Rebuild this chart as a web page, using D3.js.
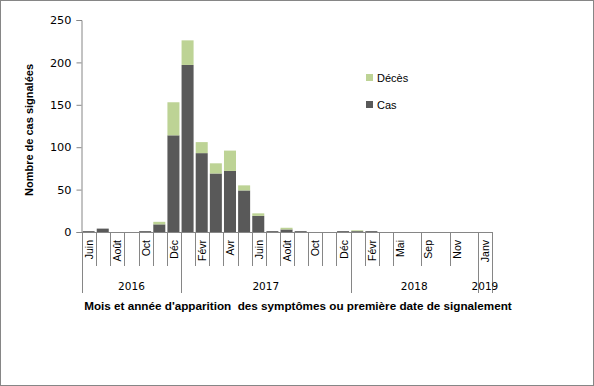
<!DOCTYPE html>
<html>
<meta charset="utf-8">
<style>
  body { margin: 0; }
  text { font-family: "Liberation Sans", Arial, sans-serif; fill: #000; }
</style>
<script src="https://d3js.org/d3.v7.min.js"></script>
<body>
<script>
  var svgWidth = 594, svgHeight = 386;

  // one entry per category on the x axis ("" = label continues the one before)
  var months = ["Juin", "Juil", "Août", "Sep", "Oct", "Nov", "Déc",
    "Janv", "Févr", "Mars", "Avr", "Mai", "Juin", "Juil", "Août", "Sep", "Oct", "Nov", "Déc",
    "Janv", "Févr", "Mars", "Mai", "", "Sep", "", "Nov", "",
    "Janv"];
  var years = [
    { "label": "2016", "start": 0, "end": 7 },
    { "label": "2017", "start": 7, "end": 19 },
    { "label": "2018", "start": 19, "end": 28 },
    { "label": "2019", "start": 28, "end": 29 }
  ];
  var cas = [1, 4, 0, 0, 1, 9, 114, 197, 93, 69, 72, 49, 19, 1, 3, 1, 0, 0, 1, 1, 1, 0, 0, 0, 0, 0, 0, 0, 0];
  var deces = [0, 0, 0, 0, 0, 3, 39, 29, 13, 12, 24, 6, 3, 0, 2, 0, 0, 0, 0, 1, 0, 0, 0, 0, 0, 0, 0, 0, 0];
  var yTicks = [0, 50, 100, 150, 200, 250];

  var colCas = "#595959", colDeces = "#bdd395", axisCol = "#868686";

  var svg = d3.select("body")
    .append("svg")
    .attr("width", svgWidth)
    .attr("height", svgHeight);

  svg.append("rect")
    .attr("x", 0.5).attr("y", 0.5)
    .attr("width", svgWidth - 1).attr("height", svgHeight - 1)
    .attr("fill", "#fff").attr("stroke", axisCol);

  var x = d3.scaleBand().domain(d3.range(months.length)).range([82, 492]).padding(0);
  var y = d3.scaleLinear().domain([0, 250]).range([232, 20]);
  var bw = x.bandwidth();

  // bars
  var rows = months.map(function(m, i) { return { i: i, cas: cas[i], deces: deces[i] }; });

  svg.selectAll(".cas")
    .data(rows)
    .enter().append("rect")
    .attr("class", "cas")
    .attr("x", function(d) { return x(d.i) + 0.6; })
    .attr("width", bw * 0.85)
    .attr("y", function(d) { return y(d.cas); })
    .attr("height", function(d) { return y(0) - y(d.cas); })
    .attr("fill", colCas);

  svg.selectAll(".deces")
    .data(rows)
    .enter().append("rect")
    .attr("class", "deces")
    .attr("x", function(d) { return x(d.i) + 0.6; })
    .attr("width", bw * 0.85)
    .attr("y", function(d) { return y(d.cas + d.deces); })
    .attr("height", function(d) { return y(d.cas) - y(d.cas + d.deces); })
    .attr("fill", colDeces);

  // y axis
  var yAxis = d3.axisLeft(y).tickValues(yTicks).tickSize(5).tickPadding(5);
  var gy = svg.append("g").attr("transform", "translate(81.5,0)").call(yAxis);
  gy.select(".domain").attr("stroke", axisCol);
  gy.selectAll(".tick line").attr("stroke", axisCol);
  gy.selectAll(".tick text")
    .style("font-family", "DejaVu Sans, Verdana, sans-serif")
    .style("font-size", "11.3px")
    .attr("fill", "#000");

  // x axis line
  svg.append("line")
    .attr("x1", 82).attr("x2", 492)
    .attr("y1", 232.5).attr("y2", 232.5)
    .attr("stroke", axisCol);

  // month separators
  var seps = d3.range(1, months.length).filter(function(i) {
    return months[i] !== "" && !years.some(function(yr) { return yr.start === i; });
  });
  svg.selectAll(".msep")
    .data(seps)
    .enter().append("line")
    .attr("x1", function(i) { return Math.round(x(i)) + 0.5; })
    .attr("x2", function(i) { return Math.round(x(i)) + 0.5; })
    .attr("y1", 232).attr("y2", 266)
    .attr("stroke", axisCol);

  // year separators
  var ysep = years.map(function(yr) { return yr.start; }).concat([months.length]);
  svg.selectAll(".ysep")
    .data(ysep)
    .enter().append("line")
    .attr("x1", function(i) { return Math.round(i < months.length ? x(i) : x.range()[1]) + 0.5; })
    .attr("x2", function(i) { return Math.round(i < months.length ? x(i) : x.range()[1]) + 0.5; })
    .attr("y1", 232).attr("y2", 293)
    .attr("stroke", axisCol);

  // month labels (every other category)
  svg.selectAll(".mlab")
    .data(rows.filter(function(d) { return d.i % 2 === 0; }))
    .enter().append("text")
    .attr("class", "mlab")
    .attr("transform", function(d) {
      return "translate(" + (x(d.i) + bw / 2 + 4) + ",240) rotate(-90)";
    })
    .attr("text-anchor", "end")
    .style("font-size", "10.5px")
    .text(function(d) { return months[d.i]; });

  // year labels
  svg.selectAll(".ylab")
    .data(years)
    .enter().append("text")
    .attr("x", function(yr) {
      var x0 = x(yr.start), x1 = yr.end < months.length ? x(yr.end) : x.range()[1];
      return (x0 + x1) / 2;
    })
    .attr("y", 290)
    .attr("text-anchor", "middle")
    .style("font-family", "DejaVu Sans, Verdana, sans-serif")
    .style("font-size", "10.5px")
    .text(function(yr) { return yr.label; });

  // axis titles
  svg.append("text")
    .attr("x", 298).attr("y", 310)
    .attr("text-anchor", "middle")
    .style("font-weight", "bold")
    .style("font-size", "11.7px")
    .style("white-space", "pre")
    .text("Mois et année d'apparition  des symptômes ou première date de signalement");

  svg.append("text")
    .attr("transform", "translate(33,130) rotate(-90)")
    .attr("text-anchor", "middle")
    .style("font-weight", "bold")
    .style("font-size", "11px")
    .text("Nombre de cas signalées");

  // legend
  var legend = [{ label: "Décès", color: colDeces, y: 74 }, { label: "Cas", color: colCas, y: 101 }];
  var lg = svg.selectAll(".leg").data(legend).enter().append("g");
  lg.append("rect")
    .attr("x", 366).attr("y", function(d) { return d.y; })
    .attr("width", 7).attr("height", 7)
    .attr("fill", function(d) { return d.color; });
  lg.append("text")
    .attr("x", 377).attr("y", function(d) { return d.y + 8; })
    .style("font-size", "11px")
    .text(function(d) { return d.label; });
</script>
</body>
</html>
